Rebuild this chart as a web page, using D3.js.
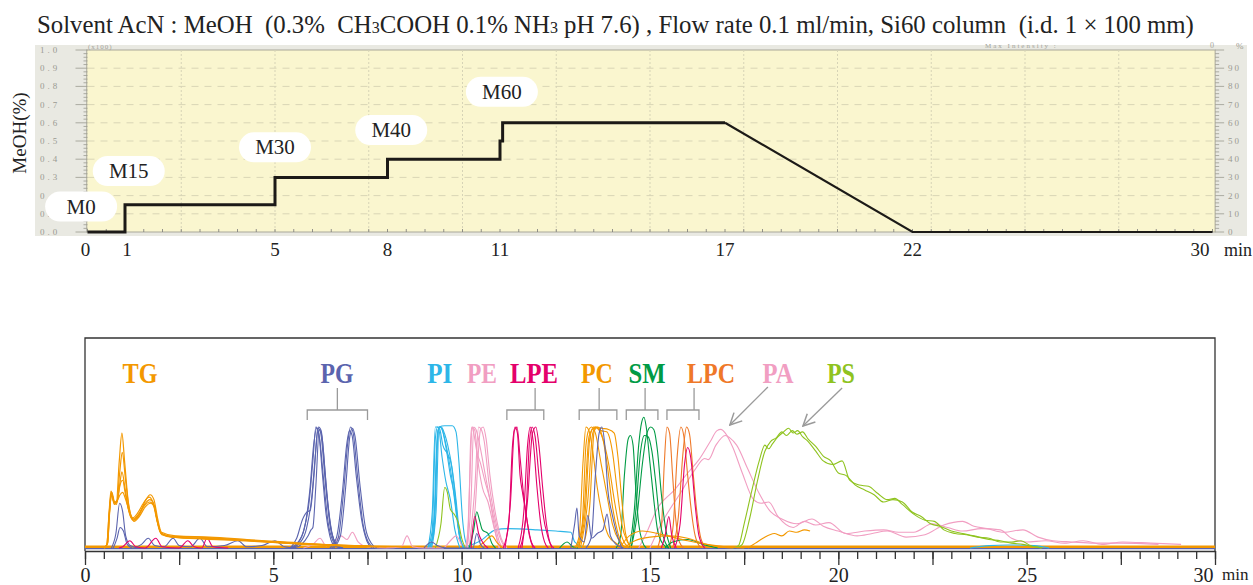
<!DOCTYPE html>
<html>
<head>
<meta charset="utf-8">
<script src="https://cdn.jsdelivr.net/npm/d3@7"></script>
<style>
  body { margin: 0; background: #fff; }
  svg { display: block; }
  text { font-family: "Liberation Serif", "Times New Roman", serif; }
</style>
</head>
<body>
<svg id="chart" width="1253" height="585"></svg>
<script>
// ---------- top panel: gradient programme ----------
const gradTime = [0, 1, 1, 5, 5, 8, 8, 11, 11, 11.07, 11.07, 17, 22, 30];
const gradMeOH = [0, 0, 15, 15, 30, 30, 40, 40, 50, 50, 60, 60, 0, 0];
const gradSteps = ["M0", "M15", "M30", "M40", "M60"];
const gradTicks = [0, 1, 5, 8, 11, 17, 22, 30];
const leftTickLabels = ["1.0", "0.9", "0.8", "0.7", "0.6", "0.5", "0.4", "0.3", "0.2", "0.1", "0.0"];
const rightTickLabels = [90, 80, 70, 60, 50, 40, 30, 20, 10, 0];

// ---------- bottom panel: chromatograms (time min, rel. intensity) ----------
const rtLabels = [0, 5, 10, 15, 20, 25, 30];
const classNames = ["TG", "PG", "PI", "PE", "LPE", "PC", "SM", "LPC", "PA", "PS"];

const tgRuns = [
  [[0.5,0],[0.58,3],[0.64,30],[0.69,47],[0.76,39],[0.83,37],[0.91,72],[0.98,95],[1.05,72],[1.15,38],[1.27,25],[1.4,29],[1.55,37],[1.7,42],[1.8,38],[1.9,24],[2.0,13],[2.2,10],[3.0,9],[4.0,7],[5.0,5],[6.0,3],[7.0,2],[8.5,1]],
  [[0.5,0],[0.58,3],[0.64,28],[0.7,46],[0.77,38],[0.84,36],[0.92,62],[0.99,79],[1.07,58],[1.17,33],[1.28,24],[1.42,28],[1.58,36],[1.72,40],[1.82,37],[1.92,22],[2.02,12],[2.3,9],[3.2,8],[4.2,6.5],[5.2,4.5],[6.2,3],[7.5,1.5]],
  [[0.52,0],[0.6,4],[0.65,30],[0.7,45],[0.78,37],[0.85,38],[0.92,52],[0.98,63],[1.06,50],[1.16,31],[1.28,23],[1.42,27],[1.58,35],[1.72,38],[1.83,35],[1.93,21],[2.03,12],[2.4,9],[3.4,7.5],[4.4,6],[5.4,4],[6.5,2.5],[7.8,1]],
  [[0.52,0],[0.6,4],[0.66,32],[0.71,46],[0.79,38],[0.87,40],[0.93,44],[1.0,46],[1.08,40],[1.18,30],[1.3,22],[1.44,26],[1.6,34],[1.74,37],[1.84,34],[1.94,20],[2.04,11],[2.5,8.5],[3.5,7],[4.5,5.5],[5.5,3.5],[6.6,2],[8,1]],
  [[0.5,0],[0.59,3],[0.65,29],[0.7,44],[0.78,36],[0.86,40],[0.93,52],[1.0,56],[1.07,45],[1.17,30],[1.29,23],[1.43,27],[1.6,39],[1.73,44],[1.83,40],[1.93,24],[2.03,13],[2.4,10],[3.3,9],[4.3,7],[5.3,5],[6.3,3],[7.6,1.5]]
];
const pgRuns = [
  [[5.4,0],[5.6,3],[5.8,14],[5.95,38],[6.05,72],[6.13,100],[6.2,96],[6.3,62],[6.4,28],[6.5,10],[6.62,2],[6.8,0]],
  [[5.5,0],[5.7,4],[5.88,16],[6.02,42],[6.12,78],[6.2,100],[6.27,97],[6.37,64],[6.47,30],[6.57,10],[6.7,2],[6.85,0]],
  [[5.45,0],[5.62,8],[5.78,24],[5.9,30],[5.98,31],[6.08,60],[6.18,99],[6.25,96],[6.38,55],[6.5,20],[6.65,4],[6.8,0]],
  [[5.55,0],[5.75,3],[5.92,10],[6.0,15],[6.05,17],[6.13,52],[6.22,98],[6.29,92],[6.42,45],[6.56,12],[6.7,2],[6.85,0]],
  [[5.5,0],[5.68,5],[5.85,20],[5.97,48],[6.07,85],[6.15,99],[6.23,90],[6.33,58],[6.45,22],[6.58,6],[6.75,0]],
  [[6.55,0],[6.72,8],[6.87,48],[6.98,88],[7.05,100],[7.12,95],[7.24,58],[7.38,20],[7.52,5],[7.68,0]],
  [[6.6,0],[6.78,10],[6.92,50],[7.03,92],[7.1,99],[7.17,92],[7.3,52],[7.45,16],[7.6,4],[7.75,0]],
  [[6.5,0],[6.68,9],[6.83,45],[6.95,86],[7.02,97],[7.09,93],[7.2,60],[7.34,24],[7.48,6],[7.62,0]],
  [[0.7,0],[0.82,12],[0.92,37],[1.0,30],[1.08,10],[1.2,2],[1.4,0]],
  [[0.75,0],[0.85,8],[0.93,17],[1.02,14],[1.12,3],[1.25,0]],
  [[1.3,0],[1.5,3],[1.68,8],[1.85,2],[2.1,1],[2.34,8],[2.5,2],[2.8,1],[3.05,8],[3.25,1],[3.7,2],[4.06,6],[4.3,1],[4.7,2],[5.04,6],[5.3,1],[5.6,0]],
  [[12.9,0],[13.0,20],[13.06,33],[13.12,10],[13.25,5],[13.35,27],[13.45,8],[13.6,12],[13.75,15],[13.86,28],[13.95,10],[14.1,3],[14.3,0]],
  [[13.3,0],[13.45,10],[13.55,60],[13.65,95],[13.72,100],[13.8,85],[13.88,48],[13.98,30],[14.1,14],[14.25,0]],
  [[9.0,0],[9.2,5],[9.35,2],[9.6,0],[10.3,0],[10.4,12],[10.5,3],[10.6,0]]
];
const piRuns = [
  [[9.1,0],[9.25,10],[9.33,80],[9.4,100],[9.55,101],[9.75,101],[9.85,96],[9.93,70],[10.02,25],[10.12,4],[10.25,0]],
  [[9.1,0],[9.22,15],[9.3,90],[9.36,100],[9.42,98],[9.5,85],[9.62,78],[9.72,70],[9.82,45],[9.92,15],[10.05,0]],
  [[9.15,0],[9.28,20],[9.36,95],[9.42,100],[9.5,96],[9.6,80],[9.7,60],[9.8,45],[9.88,25],[9.98,5],[10.1,0]],
  [[9.2,0],[9.32,30],[9.4,100],[9.47,99],[9.55,90],[9.65,75],[9.75,55],[9.85,30],[9.95,8],[10.05,0]],
  [[9.18,0],[9.3,40],[9.38,98],[9.46,100],[9.55,94],[9.63,85],[9.75,65],[9.85,40],[9.95,10],[10.05,0]],
  [[9.1,0],[9.22,30],[9.3,100],[9.38,100],[9.48,75],[9.58,55],[9.7,40],[9.82,15],[9.95,0]],
  [[10.1,1],[10.5,6],[10.9,15],[11.2,16],[12.0,15],[12.5,14],[12.9,13],[13.0,5],[13.2,1]],
  [[23.5,0],[24.0,2],[24.5,2.5],[25.2,2],[25.6,0]]
];
const peRuns = [
  [[10.1,0],[10.18,20],[10.24,90],[10.27,100],[10.32,95],[10.4,80],[10.5,70],[10.62,55],[10.75,40],[10.88,15],[11.0,0]],
  [[10.15,0],[10.25,40],[10.32,100],[10.38,98],[10.48,85],[10.6,65],[10.72,45],[10.85,25],[11.0,5],[11.1,0]],
  [[10.2,0],[10.35,50],[10.45,100],[10.52,98],[10.6,88],[10.72,55],[10.85,30],[11.0,10],[11.15,0]],
  [[10.2,0],[10.35,30],[10.5,98],[10.57,100],[10.65,90],[10.75,60],[10.9,28],[11.05,8],[11.2,0]],
  [[10.15,0],[10.22,60],[10.28,100],[10.35,97],[10.42,75],[10.55,50],[10.7,38],[10.85,18],[11.0,0]],
  [[5.8,0],[6.05,3],[6.24,8],[6.4,2],[6.6,4],[6.8,10],[6.95,7],[7.1,13],[7.25,5],[7.5,1],[8.0,0],[8.4,1],[8.55,10],[8.7,1],[9.0,0],[9.5,0],[9.7,6],[9.85,10],[10.0,2]]
];
const lpeRuns = [
  [[11.1,0],[11.25,20],[11.35,85],[11.42,100],[11.48,95],[11.55,60],[11.62,45],[11.7,30],[11.8,10],[11.9,0]],
  [[11.15,0],[11.3,40],[11.4,97],[11.47,100],[11.55,75],[11.65,42],[11.75,20],[11.85,5],[11.95,0]],
  [[11.5,0],[11.65,30],[11.75,85],[11.82,100],[11.9,88],[12.0,50],[12.1,20],[12.2,5],[12.3,0]],
  [[11.6,0],[11.75,40],[11.88,95],[11.97,100],[12.05,85],[12.15,50],[12.25,20],[12.35,4],[12.45,0]],
  [[11.55,0],[11.7,25],[11.8,88],[11.87,100],[11.95,92],[12.05,60],[12.15,30],[12.3,8],[12.4,0]],
  [[10.25,0],[10.35,26],[10.45,12],[10.55,5],[10.7,0]],
  [[0.9,0],[1.0,1],[1.19,6],[1.35,1],[1.6,0],[1.88,8],[2.05,1],[2.5,0],[2.73,6],[2.9,1],[3.1,0],[3.24,8],[3.4,1],[3.8,0]],
  [[15.65,0],[15.8,20],[15.92,70],[16.0,83],[16.08,75],[16.2,35],[16.3,10],[16.45,0]],
  [[15.3,0],[15.4,10],[15.5,26],[15.58,10],[15.7,0]]
];
const pcRuns = [
  [[13.0,0],[13.12,10],[13.22,70],[13.3,100],[13.38,97],[13.48,80],[13.6,50],[13.75,25],[13.9,10],[14.1,4],[14.3,0]],
  [[13.05,0],[13.2,20],[13.3,85],[13.38,98],[13.45,100],[13.55,95],[13.7,70],[13.85,45],[14.0,20],[14.2,5],[14.4,0]],
  [[13.1,0],[13.28,30],[13.4,90],[13.5,100],[13.6,99],[13.75,90],[13.9,70],[14.05,40],[14.2,15],[14.35,3],[14.5,0]],
  [[13.15,0],[13.35,40],[13.48,95],[13.57,100],[13.7,99],[13.9,98],[14.05,95],[14.15,75],[14.25,40],[14.35,12],[14.5,0]],
  [[13.1,0],[13.25,30],[13.38,92],[13.47,98],[13.55,100],[13.7,97],[13.85,96],[14.0,80],[14.12,50],[14.25,20],[14.4,5],[14.55,0]],
  [[13.2,0],[13.4,35],[13.52,97],[13.62,100],[13.75,90],[13.88,65],[14.0,35],[14.15,12],[14.3,0]],
  [[14.2,0],[14.45,10],[14.8,14],[15.2,12],[15.6,9],[16.0,6],[16.5,3],[17.0,1],[17.5,0]],
  [[14.3,0],[14.6,6],[15.0,9],[15.5,10],[16.0,8],[16.4,4],[16.8,1],[17.2,0]],
  [[10.4,0],[10.6,5],[10.8,10],[10.95,4],[11.1,0]],
  [[17.6,0],[17.8,4],[18.0,8],[18.3,12],[18.5,10],[18.7,14],[18.9,13],[19.1,15],[19.25,14]]
];
const smRuns = [
  [[14.1,0],[14.22,10],[14.32,60],[14.42,90],[14.48,93],[14.55,85],[14.62,50],[14.7,20],[14.8,5],[14.9,0]],
  [[14.45,0],[14.58,30],[14.7,85],[14.78,104],[14.84,108],[14.9,100],[15.0,70],[15.1,40],[15.2,15],[15.35,3],[15.5,0]],
  [[14.5,0],[14.65,25],[14.8,70],[14.92,95],[15.02,100],[15.1,98],[15.2,80],[15.3,45],[15.42,15],[15.55,0]],
  [[14.5,0],[14.62,30],[14.75,80],[14.85,93],[14.95,92],[15.05,80],[15.15,55],[15.25,25],[15.4,5],[15.5,0]],
  [[10.2,0],[10.32,15],[10.4,30],[10.48,22],[10.55,15],[10.7,12],[10.8,4],[10.9,0]],
  [[15.4,0],[15.6,5],[16.0,7],[16.4,3],[16.8,0]],
  [[12.6,0],[12.8,5],[12.95,1],[13.1,0]]
];
const lpcRuns = [
  [[15.2,0],[15.3,15],[15.38,70],[15.45,100],[15.52,95],[15.6,60],[15.68,25],[15.78,5],[15.9,0]],
  [[15.5,0],[15.62,20],[15.72,75],[15.82,100],[15.9,92],[16.0,60],[16.1,30],[16.2,10],[16.35,0]],
  [[15.6,0],[15.75,25],[15.88,80],[15.97,100],[16.05,94],[16.15,60],[16.25,28],[16.35,8],[16.5,0]]
];
const paRuns = [
  [[14.7,0],[14.9,12],[15.2,33],[15.65,48],[16.0,62],[16.3,73],[16.6,88],[16.78,97],[16.88,98],[17.0,95],[17.2,83],[17.45,62],[17.75,40],[17.95,37],[18.15,38],[18.4,26],[18.8,17],[19.1,22],[19.4,19],[19.75,21],[20.2,12],[20.7,14],[21.2,15],[21.6,13],[22.0,13],[22.5,20],[22.9,17],[23.3,14],[23.8,16],[24.3,15],[24.6,8],[25.0,5],[25.5,6],[26.0,4],[26.5,6],[27.0,3],[27.55,5],[28.3,4],[29.1,3]],
  [[15.0,0],[15.3,20],[15.8,45],[16.2,65],[16.45,74],[16.55,73],[16.75,85],[17.0,93],[17.12,91],[17.3,85],[17.6,65],[17.9,45],[18.2,30],[18.5,24],[18.9,20],[19.3,24],[19.6,18],[20.0,14],[20.5,10],[20.9,12],[21.3,14],[21.8,9],[22.3,11],[22.8,19],[23.3,22],[23.6,18],[23.95,16],[24.4,13],[24.9,15],[25.3,9],[25.7,6],[26.2,5],[26.8,4],[27.5,4],[28.5,3]]
];
const psRuns = [
  [[17.2,0],[17.35,2],[17.5,20],[17.7,47],[17.9,72],[18.05,85],[18.15,82],[18.25,86],[18.4,92],[18.55,96],[18.68,99],[18.8,95],[18.92,97],[19.05,92],[19.2,88],[19.4,80],[19.6,72],[19.85,69],[20.1,72],[20.3,56],[20.55,52],[20.8,51],[21.05,45],[21.3,40],[21.5,41],[21.7,36],[22.0,28],[22.3,23],[22.55,22],[22.8,15],[23.1,12],[23.4,11],[23.7,9],[24.0,8],[24.3,5],[24.6,5],[24.85,6],[25.1,2],[25.4,0]],
  [[17.3,0],[17.45,3],[17.65,25],[17.85,55],[18.05,80],[18.2,88],[18.35,91],[18.5,96],[18.62,93],[18.78,97],[18.9,94],[19.05,96],[19.2,90],[19.4,84],[19.6,76],[19.8,72],[20.0,62],[20.2,60],[20.45,52],[20.7,48],[20.95,44],[21.2,38],[21.45,40],[21.7,38],[21.95,30],[22.2,26],[22.45,20],[22.7,18],[23.0,14],[23.3,12],[23.6,10],[24.0,7],[24.3,6],[24.6,4],[24.9,3],[25.2,1],[25.4,0]],
  [[9.3,0],[9.45,20],[9.55,50],[9.62,46],[9.7,32],[9.8,28],[9.92,20],[10.0,8],[10.1,0]]
];
const baseOrange = [[0,1],[30,1]];
const basePurple = [[0,0],[30,0]];

// ---------- styles ----------
const colors = {
  TG: "#f39800", PG: "#5b64ae", PI: "#2db6e8", PE: "#f19ec2", LPE: "#e4006b",
  PC: "#f39800", SM: "#009b45", LPC: "#ef7828", PA: "#f19ec2", PS: "#8fc31f"
};

const svg = d3.select("#chart");

// ================= top panel =================
const xT = d3.scaleLinear().domain([0, 30]).range([87.5, 1212.5]);
const yT = d3.scaleLinear().domain([0, 100]).range([232, 50]);

svg.append("text")
  .attr("x", 37).attr("y", 33)
  .attr("font-size", 24.8).attr("fill", "#222")
  .style("white-space", "pre")
  .call(t => {
    t.append("tspan").text("Solvent AcN : MeOH  (0.3%  CH");
    t.append("tspan").attr("font-size", 16).text("3");
    t.append("tspan").text("COOH 0.1% NH");
    t.append("tspan").attr("font-size", 16).text("3");
    t.append("tspan").text(" pH 7.6) , Flow rate 0.1 ml/min, Si60 column  (i.d. 1 \u00d7 100 mm)");
  });

svg.append("rect").attr("x", 35).attr("y", 45).attr("width", 1212).attr("height", 191)
  .attr("fill", "#e9e9e2");
svg.append("rect").attr("x", xT(-0.02)).attr("y", yT(100)).attr("width", xT(30.07) - xT(-0.02)).attr("height", yT(0) - yT(100))
  .attr("fill", "#faf6cf").attr("stroke", "#a9a89a").attr("stroke-width", 1);

// grid
svg.append("g").selectAll("line").data(d3.range(10, 100, 10)).join("line")
  .attr("x1", xT(0)).attr("x2", xT(30)).attr("y1", d => yT(d)).attr("y2", d => yT(d))
  .attr("stroke", "#d9d6b6").attr("stroke-dasharray", "7,6");
svg.append("g").selectAll("line").data(d3.range(2.5, 30, 2.5)).join("line")
  .attr("x1", d => xT(d)).attr("x2", d => xT(d)).attr("y1", yT(100)).attr("y2", yT(0))
  .attr("stroke", "#d6d3b6").attr("stroke-dasharray", "2,2");

// left / right rulers
svg.append("g").selectAll("line").data(d3.range(0, 101, 2)).join("line")
  .attr("x1", d => xT(0) - (d % 10 === 0 ? 12 : 4)).attr("x2", xT(0))
  .attr("y1", d => yT(d)).attr("y2", d => yT(d)).attr("stroke", "#9a9a90").attr("stroke-width", 0.8);
svg.append("g").selectAll("text").data(leftTickLabels).join("text")
  .attr("x", 40).attr("y", (d, i) => yT(100 - i * 10) + 3)
  .attr("font-family", "DejaVu Sans Mono").attr("font-size", 9).attr("letter-spacing", 3)
  .attr("fill", "#9a9a92").text(d => d);
svg.append("g").selectAll("line").data(d3.range(0, 101, 2)).join("line")
  .attr("x1", xT(30.07)).attr("x2", d => xT(30.07) + (d % 10 === 0 ? 9 : 4))
  .attr("y1", d => yT(d)).attr("y2", d => yT(d)).attr("stroke", "#9a9a90").attr("stroke-width", 0.8);
svg.append("g").selectAll("text").data(rightTickLabels).join("text")
  .attr("x", 1228).attr("y", d => yT(d) + 3)
  .attr("font-family", "DejaVu Sans Mono").attr("font-size", 9).attr("letter-spacing", 2)
  .attr("fill", "#9a9a92").text(d => d);
svg.append("text").attr("x", 1236).attr("y", 49).attr("font-family", "DejaVu Sans Mono")
  .attr("font-size", 9).attr("fill", "#9a9a92").text("%");
svg.append("text").attr("x", 88).attr("y", 49).attr("font-family", "DejaVu Sans Mono")
  .attr("font-size", 7).attr("letter-spacing", 1).attr("fill", "#a4a49c").text("(x100)");
svg.append("text").attr("x", 985).attr("y", 48).attr("font-family", "DejaVu Sans Mono")
  .attr("font-size", 7).attr("letter-spacing", 2).attr("fill", "#a4a49c").text("Max Intensity :");
svg.append("text").attr("x", 1210).attr("y", 48).attr("font-family", "DejaVu Sans Mono")
  .attr("font-size", 8).attr("fill", "#a4a49c").text("0");

// bottom little ticks of the top frame
svg.append("g").selectAll("line").data(d3.range(0, 30.01, 0.5)).join("line")
  .attr("x1", d => xT(d)).attr("x2", d => xT(d)).attr("y1", yT(0)).attr("y2", yT(0) - 3)
  .attr("stroke", "#777").attr("stroke-width", 0.8);

// gradient line
const gradPts = gradTime.map((t, i) => [t, gradMeOH[i]]);
const gLine = d3.line().x(d => xT(d[0])).y(d => yT(d[1]));
svg.append("path").datum(gradPts.slice(0, 12)).attr("d", gLine)
  .attr("fill", "none").attr("stroke", "#1c1a17").attr("stroke-width", 3).attr("stroke-linejoin", "miter");
svg.append("path").datum(gradPts.slice(11)).attr("d", gLine)
  .attr("fill", "none").attr("stroke", "#1c1a17").attr("stroke-width", 2.2);

// step pills
const pillAt = [[-0.17, 14], [1.1, 33.5], [5.0, 46.5], [8.1, 56], [11.05, 77]];
const pills = svg.append("g").selectAll("g").data(gradSteps).join("g")
  .attr("transform", (d, i) => `translate(${xT(pillAt[i][0])},${yT(pillAt[i][1])})`);
pills.append("rect").attr("x", -36).attr("y", -15).attr("width", 72).attr("height", 30).attr("rx", 15)
  .attr("fill", "#fff");
pills.append("text").attr("text-anchor", "middle").attr("y", 7).attr("font-size", 21)
  .attr("fill", "#222").text(d => d);

// x labels & y title
svg.append("g").selectAll("text").data(gradTicks).join("text")
  .attr("x", d => xT(d) - (d === 0 ? 2 : 0) + (d === 1 ? 2 : 0) - (d === 30 ? 3 : 0)).attr("y", 256)
  .attr("text-anchor", d => (d === 30 ? "end" : "middle")).attr("font-size", 19).attr("fill", "#222").text(d => d);
svg.append("text").attr("x", 1224).attr("y", 256).attr("font-size", 18).attr("fill", "#222").text("min");
svg.append("text").attr("transform", "translate(26,133) rotate(-90)").attr("text-anchor", "middle")
  .attr("font-size", 19).attr("fill", "#222").text("MeOH(%)");

// ================= bottom panel =================
const xB = d3.scaleLinear().domain([0, 30]).range([85, 1215]);
const yB = d3.scaleLinear().domain([0, 100]).range([548, 427]);
const trace = d3.line().curve(d3.curveMonotoneX).x(d => xB(d[0])).y(d => yB(d[1]));

svg.append("path")
  .attr("d", `M${xB(0)},551V338H${xB(30)}V551`)
  .attr("fill", "none").attr("stroke", "#333").attr("stroke-width", 1.3);

function drawRuns(runs, color, w) {
  svg.append("g").selectAll("path").data(runs).join("path")
    .attr("d", trace).attr("fill", "none").attr("stroke", color)
    .attr("stroke-width", w || 1.1).attr("stroke-linejoin", "round");
}

drawRuns([basePurple], colors.PG, 2.5);
drawRuns([baseOrange], colors.TG, 2.5);
drawRuns(piRuns, colors.PI);
drawRuns(peRuns, colors.PE);
drawRuns(paRuns, colors.PA);
drawRuns(psRuns, colors.PS);
drawRuns(lpcRuns, colors.LPC);
drawRuns(smRuns, colors.SM);
drawRuns(pcRuns, colors.PC);
drawRuns(pgRuns, colors.PG);
drawRuns(lpeRuns, colors.LPE);
drawRuns(tgRuns, colors.TG, 1.2);

// axis
const axMinor = d3.axisBottom(xB).tickValues(d3.range(0, 30.01, 0.5)).tickSize(8).tickSizeOuter(0).tickFormat("");
const axMajor = d3.axisBottom(xB).tickValues(d3.range(0, 30.01, 2.5)).tickSize(14).tickSizeOuter(0)
  .tickFormat(d => (rtLabels.includes(d) ? d : ""));
svg.append("g").attr("transform", "translate(0,551)").call(axMinor)
  .call(g => g.selectAll("line,path").attr("stroke", "#333").attr("stroke-width", 1.3));
svg.append("g").attr("transform", "translate(0,551)").call(axMajor)
  .call(g => g.select(".domain").remove())
  .call(g => g.selectAll("line").attr("stroke", "#333").attr("stroke-width", 1.3))
  .call(g => g.selectAll("text").attr("font-family", "Liberation Serif, serif").attr("font-size", 20).attr("fill", "#222"))
  .call(g => g.selectAll("text").filter(d => d === 30).attr("text-anchor", "end").attr("x", -2));
svg.append("text").attr("x", 1222).attr("y", 580).attr("font-size", 17).attr("fill", "#222").text("min");

// class labels
const labelAt = [1.46, 6.69, 9.42, 10.54, 11.92, 13.59, 14.92, 16.62, 18.4, 20.07];
const labelWidth = [35, 33, 25, 30, 48, 32, 37, 48, 31, 28];
svg.append("g").selectAll("text").data(classNames).join("text")
  .attr("x", (d, i) => xB(labelAt[i])).attr("y", 383)
  .attr("text-anchor", "middle").attr("font-size", 29).attr("font-weight", "bold")
  .attr("textLength", (d, i) => labelWidth[i]).attr("lengthAdjust", "spacingAndGlyphs")
  .attr("fill", d => colors[d]).text(d => d);

// brackets
const brackets = [[5.9, 7.5, 6.7], [11.2, 12.18, 11.95], [13.12, 14.12, 13.65], [14.37, 15.21, 14.87], [15.45, 16.3, 16.17]];
svg.append("g").selectAll("path").data(brackets).join("path")
  .attr("d", d => `M${xB(d[0])},420V410H${xB(d[1])}V420M${xB(d[2])},410V388`)
  .attr("fill", "none").attr("stroke", "#9a9a9a").attr("stroke-width", 1.3);

// arrows
svg.append("defs").append("marker").attr("id", "arr")
  .attr("viewBox", "0 0 12 12").attr("refX", 11).attr("refY", 6)
  .attr("markerWidth", 14).attr("markerHeight", 14).attr("markerUnits", "userSpaceOnUse")
  .attr("orient", "auto")
  .append("path").attr("d", "M1,1L11,6L1,11").attr("fill", "none").attr("stroke", "#9a9a9a").attr("stroke-width", 1.3);
const arrows = [[18.13, 387, 17.12, 425], [20.1, 388, 19.06, 426]];
svg.append("g").selectAll("line").data(arrows).join("line")
  .attr("x1", d => xB(d[0])).attr("y1", d => d[1]).attr("x2", d => xB(d[2])).attr("y2", d => d[3])
  .attr("stroke", "#9a9a9a").attr("stroke-width", 1.3).attr("marker-end", "url(#arr)");
</script>
</body>
</html>
